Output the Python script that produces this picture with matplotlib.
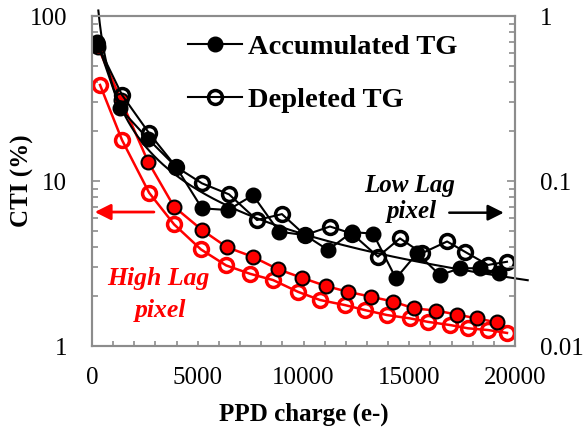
import numpy as np
import matplotlib
matplotlib.use("Agg")
from matplotlib import pyplot as plt
from matplotlib.ticker import MultipleLocator, LogLocator, NullFormatter, FixedLocator, FixedFormatter

plt.rcParams['font.family'] = ['Liberation Serif', 'DejaVu Serif']

# Accumulated TG, low lag pixel (black filled)
acc_low_x = [240, 1320, 2650, 3970, 5200, 6430, 7610, 8840, 10070, 11160,
             12290, 13290, 14370, 15370, 16450, 17400, 18350, 19240]
acc_low_y = [70, 27.6, 18.0, 12.2, 6.83, 6.67, 8.2, 4.93, 4.7, 3.82,
             4.9, 4.8, 2.57, 3.65, 2.69, 2.96, 2.96, 2.76]

# Depleted TG, low lag pixel (black open)
dep_low_x = [240, 1420, 2700, 3970, 5200, 6480, 7800, 8980, 10070, 11250,
             12290, 13520, 14560, 15600, 16790, 17640, 18720, 19620]
dep_low_y = [68, 33.2, 19.5, 12.2, 9.68, 8.3, 5.8, 6.3, 4.7, 5.3,
             4.8, 3.48, 4.49, 3.65, 4.3, 3.72, 3.1, 3.24]

# Accumulated TG, high lag pixel (red filled)
acc_high_x = [280, 1370, 2650, 3880, 5200, 6380, 7610, 8790, 9930, 11060,
              12100, 13190, 14230, 15230, 16270, 17260, 18200, 19150]
acc_high_y = [65, 31, 13.1, 6.98, 5.05, 3.97, 3.47, 2.92, 2.59, 2.31,
              2.13, 1.99, 1.86, 1.69, 1.64, 1.55, 1.47, 1.39]

# Depleted TG, high lag pixel (red open)
dep_high_x = [380, 1420, 2700, 3880, 5150, 6340, 7470, 8560, 9740, 10780,
              11960, 12910, 13950, 15040, 15890, 16930, 17780, 18720, 19620]
dep_high_y = [38.2, 17.7, 8.49, 5.46, 3.85, 3.08, 2.74, 2.51, 2.13, 1.90,
              1.77, 1.65, 1.54, 1.47, 1.40, 1.34, 1.28, 1.25, 1.20]

# power trendline (y = a * x^b) as shown on the chart
trend_a = 1.73e4
trend_b = -0.89
trend_range = [300, 20600]

GRAY = '#8c8c8c'
RED = '#ff0000'

fig = plt.figure(figsize=(5.83, 4.36), dpi=100)
ax = fig.add_axes([0.1578, 0.2064, 0.7256, 0.7569])

ax.plot(dep_high_x, dep_high_y, color=RED, lw=1.8, marker='o', ms=10,
        mfc='none', mec=RED, mew=2.5, zorder=3)
ax.plot(acc_high_x, acc_high_y, color=RED, lw=1.8, marker='o', ms=10,
        mfc=RED, mec='black', mew=1.5, zorder=4)

trend_x = np.linspace(trend_range[0], trend_range[1], 300)
ax.plot(trend_x, trend_a * trend_x ** trend_b, color='black', lw=1.5,
        clip_on=False, zorder=5)

acc_line, = ax.plot(acc_low_x, acc_low_y, color='black', lw=1.5, marker='o',
                    ms=10.5, mfc='black', mec='black', zorder=6,
                    label='Accumulated TG')
dep_line, = ax.plot(dep_low_x, dep_low_y, color='black', lw=1.5, marker='o',
                    ms=10, mfc='none', mec='black', mew=2.5, zorder=7,
                    label='Depleted TG')

ax.set_yscale('log')
ax.set_ylim(1, 100)
ax.set_xlim(0, 20000)
ax.xaxis.set_major_locator(MultipleLocator(5000))
ax.xaxis.set_minor_locator(MultipleLocator(1000))
ax.yaxis.set_major_locator(FixedLocator([1, 10, 100]))
ax.yaxis.set_major_formatter(FixedFormatter(['1', '10', '100']))
ax.yaxis.set_minor_locator(LogLocator(base=10, subs=np.arange(2, 10)))
ax.yaxis.set_minor_formatter(NullFormatter())

for s in ax.spines.values():
    s.set_color(GRAY)
    s.set_linewidth(1.5)

ax.tick_params(axis='both', which='both', direction='in', colors=GRAY,
               labelcolor='black', labelsize=18, width=1.2)
ax.tick_params(axis='x', which='both', length=3.5, pad=15)
ax.tick_params(axis='y', which='major', length=6, pad=18)
ax.tick_params(axis='y', which='minor', length=4)

ax2 = ax.twinx()
ax2.set_yscale('log')
ax2.set_ylim(0.01, 1)
ax2.yaxis.set_major_locator(FixedLocator([0.01, 0.1, 1]))
ax2.yaxis.set_major_formatter(FixedFormatter(['0.01', '0.1', '1']))
ax2.yaxis.set_minor_locator(LogLocator(base=10, subs=np.arange(2, 10)))
ax2.yaxis.set_minor_formatter(NullFormatter())
for s in ax2.spines.values():
    s.set_color(GRAY)
    s.set_linewidth(1.5)
ax2.tick_params(axis='y', which='both', direction='in', colors=GRAY,
                labelcolor='black', labelsize=18, width=1.2, pad=18)
ax2.tick_params(axis='y', which='major', length=6)
ax2.tick_params(axis='y', which='minor', length=4)

ax.set_xlabel('PPD charge (e-)', fontsize=18, fontweight='bold', labelpad=10)
fig.text(22 / 583, 1 - 181 / 436, 'CTI (%)', fontsize=18, fontweight='bold',
         rotation=90, ha='center', va='center')

ax.legend(handles=[acc_line, dep_line], loc='upper left',
          bbox_to_anchor=(0.227, 0.945), frameon=False,
          prop={'weight': 'bold', 'size': 20.5}, numpoints=1,
          handlelength=1.9, handletextpad=0.2, labelspacing=0.96,
          borderpad=0, borderaxespad=0)

# annotations
ax.annotate('', xy=(0.0, 0.406), xytext=(0.153, 0.406),
            xycoords='axes fraction', textcoords='axes fraction',
            arrowprops=dict(arrowstyle='-|>', color=RED, lw=2,
                            mutation_scale=24))
ax.annotate('', xy=(0.98, 0.404), xytext=(0.838, 0.404),
            xycoords='axes fraction', textcoords='axes fraction',
            arrowprops=dict(arrowstyle='-|>', color='black', lw=1.8,
                            mutation_scale=24))
ax.text(0.158, 0.185, 'High Lag', transform=ax.transAxes, color=RED,
        fontsize=18.5, fontweight='bold', fontstyle='italic', ha='center',
        va='baseline')
ax.text(0.163, 0.088, 'pixel', transform=ax.transAxes, color=RED,
        fontsize=18.5, fontweight='bold', fontstyle='italic', ha='center',
        va='baseline')
ax.text(0.752, 0.468, 'Low Lag', transform=ax.transAxes, color='black',
        fontsize=18, fontweight='bold', fontstyle='italic', ha='center',
        va='baseline')
ax.text(0.757, 0.388, 'pixel', transform=ax.transAxes, color='black',
        fontsize=18, fontweight='bold', fontstyle='italic', ha='center',
        va='baseline')

fig.savefig('out.png', dpi=100)
